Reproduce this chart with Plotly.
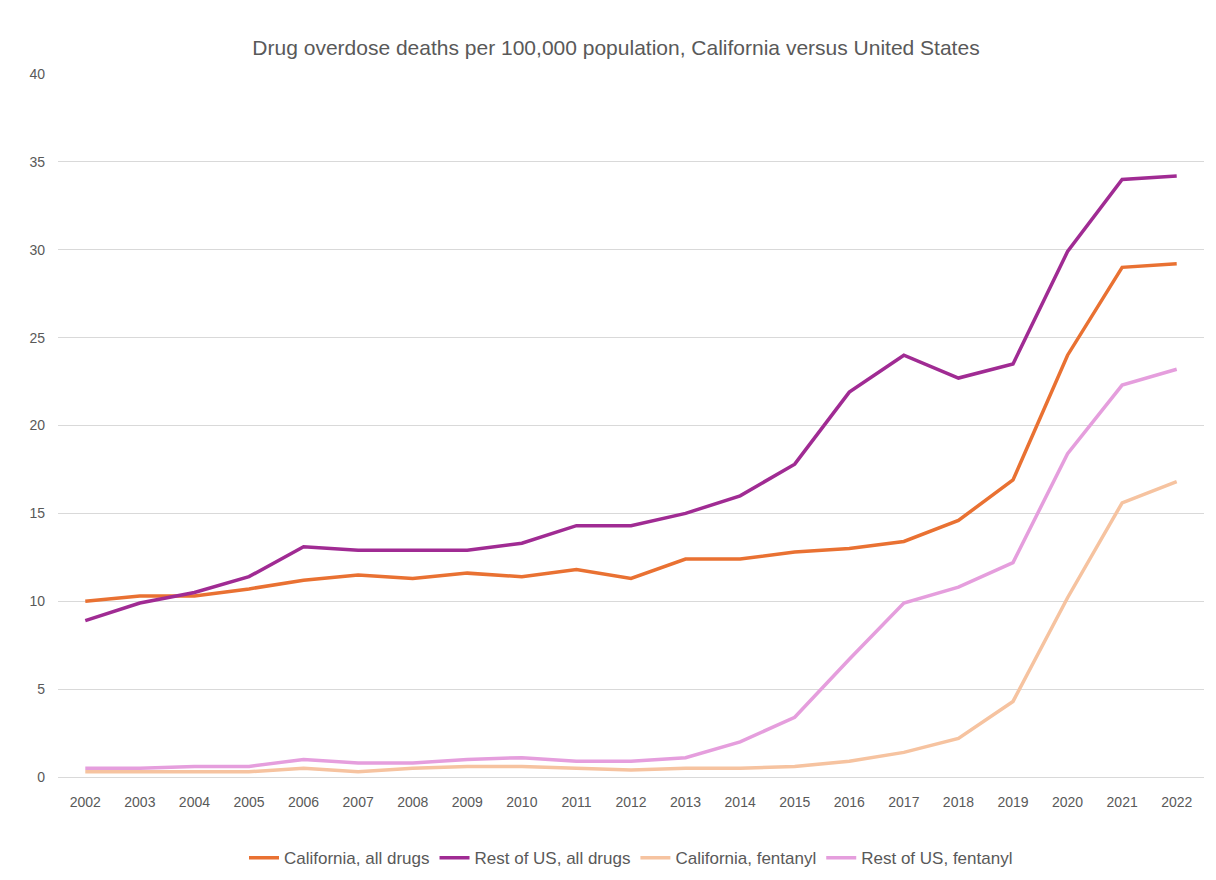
import plotly.graph_objects as go

years = [str(y) for y in range(2002, 2023)]
ca_all = [10.0,10.3,10.3,10.7,11.2,11.5,11.3,11.6,11.4,11.8,11.3,12.4,12.4,12.8,13.0,13.4,14.6,16.9,24.0,29.0,29.2]
us_all = [8.9,9.9,10.5,11.4,13.1,12.9,12.9,12.9,13.3,14.3,14.3,15.0,16.0,17.8,21.9,24.0,22.7,23.5,29.9,34.0,34.2]
ca_fen = [0.3,0.3,0.3,0.3,0.5,0.3,0.5,0.6,0.6,0.5,0.4,0.5,0.5,0.6,0.9,1.4,2.2,4.3,10.2,15.6,16.8]
us_fen = [0.5,0.5,0.6,0.6,1.0,0.8,0.8,1.0,1.1,0.9,0.9,1.1,2.0,3.4,6.7,9.9,10.8,12.2,18.4,22.3,23.2]
names = ["California, all drugs", "Rest of US, all drugs", "California, fentanyl", "Rest of US, fentanyl"]
colors = ["#E97132", "#A02B93", "#F6C3A0", "#E59EDD"]

fig = go.Figure()
for n, v, c in zip(names, [ca_all, us_all, ca_fen, us_fen], colors):
    fig.add_trace(go.Scatter(x=years, y=v, name=n, mode="lines", line=dict(color=c, width=3.5)))

fig.update_layout(
    width=1216, height=880, plot_bgcolor="white", paper_bgcolor="white",
    font=dict(family="Liberation Sans, Arial", size=14, color="#595959"),
    title=dict(text="Drug overdose deaths per 100,000 population, California versus United States",
               x=0.5, xanchor="center", y=0.963, font=dict(size=21, color="#595959")),
    margin=dict(l=50, r=20, t=66, b=96),
    xaxis=dict(showgrid=False, showline=True, linecolor="#D9D9D9", ticks="", tickfont=dict(size=14),
               range=[-0.5, 20.5], ticklabelstandoff=12),
    yaxis=dict(range=[0, 40], dtick=5, gridcolor="#D9D9D9", zeroline=False, ticks="", tickfont=dict(size=14),
               ticklabelstandoff=12),
    legend=dict(orientation="h", x=0.5, xanchor="center", y=-0.09, yanchor="top", font=dict(size=17)),
)
fig.write_html("out.html")
